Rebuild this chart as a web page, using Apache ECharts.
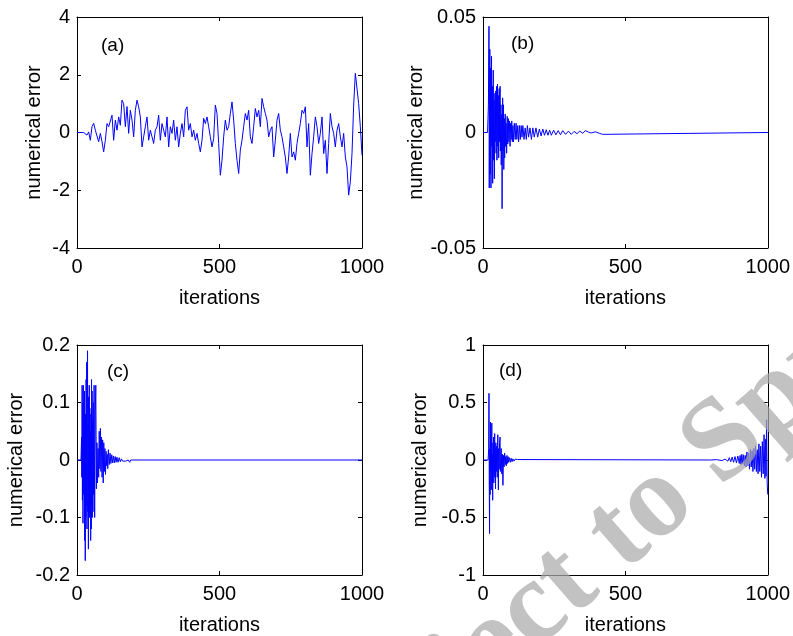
<!DOCTYPE html>
<html>
<head>
<meta charset="utf-8">
<title>numerical error vs iterations</title>
<script src="https://cdn.jsdelivr.net/npm/echarts@6/dist/echarts.min.js"></script>
<style>
  html, body { margin: 0; padding: 0; background: #fff; }
  #chart { width: 793px; height: 636px; }
</style>
</head>
<body>
<div id="chart"></div>
<script>
// Panel (a): error sampled evenly over 0..1000 iterations
var errA = [
  0, 0, 0, 0, 0, 0, -0.09, 0.02, -0.27, 0.2, 0.32, 0.08, 0.02, -0.32, -0.03, -0.32, -0.67, -0.27,
  0.31, 0.2, 0.25, 0.6, -0.27, 0.43, 0.08, 0.54, 0.25, 1.12, 1.0, 0.2, 0.9, -0.03, 0.77, 0.43,
  -0.15, 0.77, 1.12, 0.89, 0.54, -0.5, -0.15, 0.2, 0.54, -0.27, 0.08, -0.15, -0.38, 0.08, 0.2,
  0.6, -0.27, 0.31, 0.08, -0.15, 0.54, -0.5, 0.2, -0.03, 0.43, -0.27, 0.2, -0.5, -0.03, 0.31,
  -0.15, 0.77, 0.89, 0.08, 0.31, -0.15, 0.08, -0.27, -0.03, -0.38, -0.67, -0.27, 0.49, 0.31,
  0.54, 0.2, -0.15, -0.5, -0.21, 0.95, 0.66, -0.38, -1.48, -0.96, -0.15, 0.43, 0.08, 0.2, 0.66,
  1.06, 0.43, -0.38, -0.96, -1.42, -0.61, -0.27, 0.2, 0.66, 0.43, 0.77, -0.15, -0.38, 0.2, 0.83,
  0.54, 0.77, 0.2, 1.18, 0.89, 0.66, 0.43, -0.15, 0.08, 0.2, -0.85, -0.27, 0.43, 0.66, 0.08,
  -0.15, -0.5, -0.85, -1.42, -0.85, -0.03, -0.85, -0.67, -0.96, -0.38, -0.03, 0.31, 0.77, 0.66,
  0.89, -0.5, 0.31, -1.48, -0.73, -0.15, 0.54, 0.2, -0.38, -0.03, 0.54, -0.73, -0.27, -1.42,
  -0.38, 0.66, 0.2, -0.03, -0.5, 0.08, 0.31, -0.15, -0.5, -0.03, -0.85, -1.19, -2.17, -1.71,
  -0.73, 0.95, 2.05, 1.99, 1.0, 0.2, -0.79
];

// Panels (b)-(d): [iteration, error]
var errB = [
  [0, 0], [16, 0], [19, 0.012], [21, 0.046], [22, -0.024], [24, 0.036], [25, -0.018], [27, 0.028],
  [28, -0.024], [30, 0.033], [31, -0.006], [33, 0.02], [34, -0.022], [36, 0.027], [37, -0.012],
  [39, 0.014], [40, -0.02], [42, 0.017], [43, -0.004], [45, 0.018], [46, -0.009], [48, 0.02],
  [49, -0.012], [51, 0.021], [52, -0.006], [54, 0.016], [55, -0.011], [57, 0.019], [58, -0.004],
  [60, 0.02], [61, -0.008], [63, 0.012], [64, -0.014], [66, 0.008], [67, -0.033], [69, 0.015],
  [70, -0.008], [72, 0.012], [73, -0.016], [75, 0.006], [76, -0.011], [78, 0.008], [79, -0.006],
  [81, 0.004], [83, -0.009], [85, 0.007], [87, -0.005], [89, 0.006], [91, -0.004], [93, 0.005],
  [95, -0.006], [97, 0.004], [99, -0.003], [101, 0.005], [103, -0.004], [105, 0.003], [107, -0.004],
  [110, 0.004], [113, -0.003], [116, 0.004], [119, -0.003], [122, 0.003], [125, -0.004], [128, 0.003],
  [131, -0.003], [134, 0.003], [137, -0.002], [140, 0.003], [144, -0.003], [148, 0.002], [152, -0.003],
  [156, 0.003], [160, -0.002], [165, 0.002], [170, -0.003], [175, 0.002], [180, -0.002], [186, 0.002],
  [192, -0.002], [198, 0.0015], [204, -0.0015], [210, 0.0015], [216, -0.0012], [222, 0.0012],
  [228, -0.0012], [234, 0.001], [240, -0.0012], [248, 0.001], [256, -0.001], [264, 0.0008],
  [272, -0.001], [280, 0.0008], [290, -0.0008], [300, 0.0006], [310, -0.0008], [320, 0.0005],
  [330, -0.0005], [340, 0.0006], [350, -0.0003], [360, 0.0008], [370, 0.0002], [380, -0.0002],
  [395, 0.0003], [410, -0.0004], [420, -0.0008], [425, 0], [1000, 0]
];

var errC = [
  [0, 0], [14, 0], [16, 0.04], [17, -0.03], [18, 0.13], [19, -0.07], [20, 0.1], [21, -0.11],
  [22, 0.13], [23, -0.06], [24, 0.07], [25, -0.05], [26, 0.12], [27, -0.14], [28, 0.05], [29, -0.175],
  [30, 0.08], [31, -0.1], [32, 0.14], [33, -0.08], [34, 0.17], [35, -0.12], [36, 0.09], [37, 0.19],
  [38, -0.09], [39, 0.06], [40, -0.155], [41, 0.11], [42, -0.05], [43, 0.13], [44, -0.1], [45, 0.09],
  [46, -0.06], [47, 0.05], [48, -0.14], [49, 0.08], [50, -0.12], [51, 0.14], [52, -0.08], [53, 0.12],
  [54, -0.1], [55, 0.07], [56, -0.09], [57, 0.1], [58, -0.06], [60, 0.13], [62, -0.1], [64, 0.08],
  [66, 0.13], [68, -0.05], [70, 0.03], [72, -0.04], [74, 0.02], [76, -0.03], [78, 0.05], [80, -0.015],
  [82, 0.055], [84, -0.02], [86, 0.04], [88, -0.03], [90, 0.035], [92, -0.04], [94, 0.03], [96, -0.02],
  [98, 0.02], [100, -0.025], [102, 0.015], [104, -0.01], [106, 0.01], [108, -0.015], [110, 0.018],
  [113, -0.008], [116, 0.012], [119, -0.006], [122, 0.009], [125, -0.005], [128, 0.007], [131, -0.005],
  [134, 0.006], [137, -0.004], [140, 0.005], [144, -0.004], [148, 0.004], [152, -0.003], [156, 0.002],
  [160, -0.002], [165, 0.001], [170, -0.002], [175, 0.001], [180, 0], [185, -0.004], [188, 0], [1000, 0]
];

var errD = [
  [0, 0], [18, 0], [20, 0.1], [21, 0.58], [22, -0.2], [23, -0.64], [24, 0.1], [25, -0.3], [26, 0.33],
  [27, -0.1], [28, 0.2], [29, -0.26], [30, 0.1], [31, 0.32], [32, -0.2], [33, 0.05], [34, -0.35],
  [35, 0.15], [36, -0.1], [37, 0.2], [38, -0.2], [39, 0.1], [40, -0.15], [41, 0.23], [42, -0.1],
  [43, 0.1], [44, -0.25], [45, 0.15], [47, -0.1], [48, 0.12], [50, -0.15], [51, 0.1], [52, 0.22],
  [53, -0.05], [54, -0.26], [55, 0.1], [57, -0.08], [58, 0.15], [60, 0.2], [61, -0.1], [62, -0.02],
  [64, 0.1], [66, -0.12], [68, 0.05], [70, -0.22], [72, 0.04], [74, -0.06], [76, 0.06], [78, -0.04],
  [80, 0.03], [82, -0.05], [84, 0.04], [86, -0.03], [88, 0.03], [90, -0.02], [93, 0.02], [96, -0.02],
  [99, 0.015], [102, -0.015], [105, 0.01], [109, -0.01], [113, 0.008], [117, -0.006], [121, 0.004],
  [124, 0], [800, 0], [820, 0.003], [840, -0.005], [850, 0.008], [860, -0.01], [865, 0.02],
  [870, -0.015], [875, 0.025], [880, -0.02], [885, 0.03], [890, -0.025], [895, 0.035], [900, -0.03],
  [903, 0.04], [906, -0.04], [909, 0.05], [912, -0.035], [915, 0.045], [918, -0.05], [921, 0.04],
  [924, -0.06], [927, 0.07], [930, -0.05], [933, 0.06], [936, -0.08], [939, 0.09], [942, -0.06],
  [945, 0.08], [948, -0.1], [951, 0.1], [954, -0.08], [957, 0.12], [960, -0.1], [963, 0.09],
  [966, -0.12], [969, 0.14], [972, -0.1], [975, 0.12], [978, -0.15], [981, 0.16], [984, -0.12],
  [987, 0.22], [990, -0.16], [992, 0.18], [994, -0.14], [996, 0.35], [998, -0.2], [1000, -0.3]
];

// y ranges of the four panels
var yMin = [-4, -0.05, -0.2, -1];
var yMax = [4, 0.05, 0.2, 1];
var yStep = [2, 0.05, 0.1, 0.5];
var panelLabels = ['(a)', '(b)', '(c)', '(d)'];

var FONT = 'Liberation Sans, Arial, sans-serif';

var myChart = echarts.init(document.getElementById('chart'), null, { renderer: 'canvas' });

// panel (a) is sampled on an even step, convert to pairs
var stepA = 1000 / (errA.length - 1);
var dataA = errA.map(function (v, i) { return [i * stepA, v]; });
var allData = [dataA, errB, errC, errD];

var grids = [
  { left: 77, top: 17, width: 285, height: 231 },
  { left: 483, top: 17, width: 285, height: 231 },
  { left: 77, top: 345, width: 285, height: 231 },
  { left: 483, top: 345, width: 285, height: 231 }
];
var yNameGap = [33, 53, 51, 53];
var labelPos = [[101, 36], [511, 34], [107, 362], [499, 361]];

function plain(v) { return String(v); }

var xAxes = [], yAxes = [], series = [], graphics = [];

grids.forEach(function (g, i) {
  var tick = { show: true, inside: true, length: 4, lineStyle: { color: '#000', width: 1 } };
  var line = { show: true, onZero: false, lineStyle: { color: '#000', width: 1 } };
  xAxes.push({
    type: 'value', gridIndex: i, position: 'bottom', min: 0, max: 1000, interval: 500,
    name: 'iterations', nameLocation: 'middle', nameGap: 40,
    nameTextStyle: { fontFamily: FONT, fontSize: 20, color: '#000' },
    axisLine: line, axisTick: tick, splitLine: { show: false },
    axisLabel: { fontFamily: FONT, fontSize: 20, color: '#000', margin: 9, formatter: plain }
  });
  xAxes.push({
    type: 'value', gridIndex: i, position: 'top', min: 0, max: 1000, interval: 500,
    axisLine: line, axisTick: tick, splitLine: { show: false }, axisLabel: { show: false }
  });
  yAxes.push({
    type: 'value', gridIndex: i, position: 'left', min: yMin[i], max: yMax[i], interval: yStep[i],
    name: 'numerical error', nameLocation: 'middle', nameGap: yNameGap[i], nameRotate: 90,
    nameTextStyle: { fontFamily: FONT, fontSize: 20, color: '#000' },
    axisLine: line, axisTick: tick, splitLine: { show: false },
    axisLabel: { fontFamily: FONT, fontSize: 20, color: '#000', margin: 7, formatter: plain }
  });
  yAxes.push({
    type: 'value', gridIndex: i, position: 'right', min: yMin[i], max: yMax[i], interval: yStep[i],
    axisLine: line, axisTick: tick, splitLine: { show: false }, axisLabel: { show: false }
  });
  series.push({
    type: 'line', xAxisIndex: 2 * i, yAxisIndex: 2 * i,
    data: allData[i], showSymbol: false, symbol: 'none', sampling: null,
    lineStyle: { color: '#0000ff', width: 1 }, z: 3
  });
  graphics.push({
    type: 'text', left: labelPos[i][0], top: labelPos[i][1], z: 10,
    style: { text: panelLabels[i], font: '19px ' + FONT, fill: '#000' }
  });
});

// watermark across the lower right
graphics.push({
  type: 'text', x: 335, y: 864, rotation: 0.72, z: 100,
  style: {
    text: 'Subject to Springer', font: 'bold 118px Liberation Serif, serif',
    fill: 'rgba(170,170,170,0.72)', textVerticalAlign: 'bottom'
  }
});

myChart.setOption({
  animation: false,
  grid: grids,
  xAxis: xAxes,
  yAxis: yAxes,
  series: series,
  graphic: graphics
});
</script>
</body>
</html>
